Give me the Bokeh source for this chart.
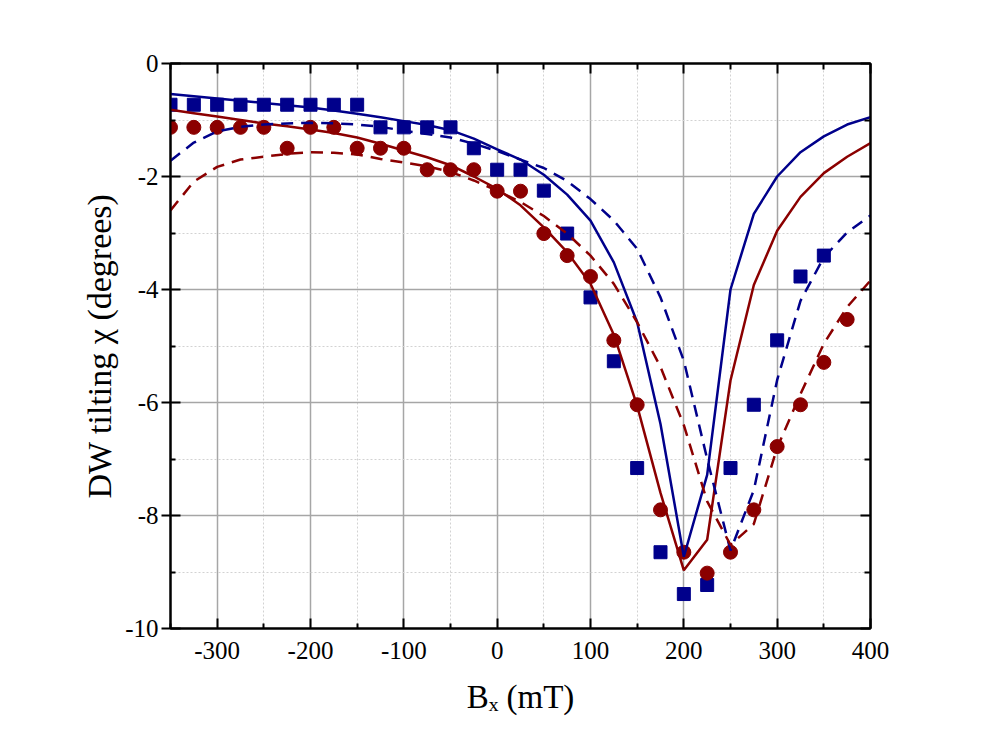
from bokeh.plotting import figure
from bokeh.models import FixedTicker, LinearAxis, Range1d, CustomJSTickFormatter
from bokeh.embed import file_html
from bokeh.resources import INLINE

# ---- data ----
bx_fit = [-350, -325, -300, -275, -250, -225, -200, -175, -150, -125, -100, -75, -50, -25, 0,
          25, 50, 75, 100, 125, 150, 175, 200, 225, 250, 275, 300, 325, 350, 375, 400]
fit_blue_solid = [-0.54, -0.58, -0.62, -0.66, -0.70, -0.74, -0.78, -0.83, -0.89, -0.95, -1.02, -1.09,
                  -1.18, -1.33, -1.52, -1.70, -1.97, -2.32, -2.78, -3.52, -4.58, -6.38, -8.73, -7.28,
                  -4.00, -2.66, -2.00, -1.57, -1.29, -1.08, -0.95]
fit_blue_dash = [-1.72, -1.40, -1.20, -1.12, -1.08, -1.06, -1.05, -1.06, -1.08, -1.12, -1.19, -1.25,
                 -1.31, -1.42, -1.55, -1.70, -1.85, -2.08, -2.40, -2.78, -3.28, -4.14, -5.26, -7.00,
                 -8.62, -7.55, -5.60, -4.20, -3.43, -2.99, -2.69]
fit_red_solid = [-0.82, -0.88, -0.94, -1.00, -1.06, -1.11, -1.17, -1.23, -1.31, -1.42, -1.54, -1.66,
                 -1.80, -2.00, -2.22, -2.51, -2.90, -3.34, -3.90, -4.80, -6.06, -7.60, -8.97, -8.43,
                 -5.61, -3.92, -2.96, -2.36, -1.94, -1.65, -1.41]
fit_red_dash = [-2.60, -2.09, -1.83, -1.70, -1.65, -1.60, -1.57, -1.58, -1.61, -1.69, -1.75, -1.82,
                -1.92, -2.07, -2.25, -2.45, -2.70, -3.01, -3.40, -3.90, -4.58, -5.37, -6.40, -7.75,
                -8.52, -8.15, -6.80, -5.85, -4.96, -4.31, -3.84]

bx_blue = [-350, -325, -300, -275, -250, -225, -200, -175, -150, -125, -100, -75, -50, -25, 0,
           25, 50, 75, 100, 125, 150, 175, 200, 225, 250, 275, 300, 325, 350]
chi_blue = [-0.73, -0.73, -0.73, -0.73, -0.73, -0.73, -0.73, -0.73, -0.73, -1.13, -1.13, -1.13,
            -1.13, -1.50, -1.88, -1.88, -2.25, -3.01, -4.14, -5.27, -7.16, -8.65, -9.39, -9.23,
            -7.16, -6.04, -4.90, -3.77, -3.40]

bx_red = [-350, -325, -300, -275, -250, -225, -200, -175, -150, -125, -100, -75, -50, -25, 0,
          25, 50, 75, 100, 125, 150, 175, 200, 225, 250, 275, 300, 325, 350, 375]
chi_red = [-1.13, -1.13, -1.13, -1.13, -1.13, -1.50, -1.13, -1.13, -1.50, -1.50, -1.50, -1.88,
           -1.88, -1.88, -2.26, -2.26, -3.01, -3.40, -3.77, -4.90, -6.04, -7.90, -8.65, -9.02,
           -8.65, -7.90, -6.78, -6.04, -5.29, -4.53]

x_ticks = [-300, -200, -100, 0, 100, 200, 300, 400]
x_tick_labels = ["-300", "-200", "-100", "0", "100", "200", "300", "400"]
x_minor = [-350, -250, -150, -50, 50, 150, 250, 350]
y_ticks = [-10, -8, -6, -4, -2, 0]
y_tick_labels = ["-10", "-8", "-6", "-4", "-2", "0"]
y_minor = [-9, -7, -5, -3, -1]

x_title = "B\u2093 (mT)"
y_title = "DW tilting \u03c7 (degrees)"

BLUE = "#00008b"
RED = "#8b0000"
FONT = "Liberation Serif"

p = figure(width=980, height=730, x_range=Range1d(-350, 400), y_range=Range1d(-10, 0),
           output_backend="svg", toolbar_location=None,
           min_border_left=170, min_border_top=63, min_border_right=110, min_border_bottom=102)
p.background_fill_color = "white"
p.border_fill_color = "white"
p.outline_line_color = "black"
p.outline_line_width = 2

# grids
p.xgrid.ticker = FixedTicker(ticks=x_ticks, minor_ticks=x_minor)
p.ygrid.ticker = FixedTicker(ticks=y_ticks, minor_ticks=y_minor)
for g in (p.xgrid[0], p.ygrid[0]):
    g.grid_line_color = "#a6a6a6"
    g.grid_line_width = 1.5
    g.minor_grid_line_color = "#d2d2d2"
    g.minor_grid_line_width = 1
    g.minor_grid_line_dash = "2 2"

xa = p.xaxis[0]
xa.ticker = FixedTicker(ticks=x_ticks, minor_ticks=x_minor)
xa.major_label_overrides = {t: l for t, l in zip(x_ticks, x_tick_labels)}
xa.major_tick_in = 10
xa.major_tick_out = 0
xa.minor_tick_in = 5
xa.minor_tick_out = 0
xa.major_label_standoff = 13
xa.major_label_text_font = FONT
xa.major_label_text_font_size = "25px"
xa.major_label_text_color = "black"
xa.axis_label = x_title
xa.axis_label_text_font = FONT
xa.axis_label_text_font_size = "33px"
xa.axis_label_text_font_style = "normal"
xa.axis_label_text_color = "black"
xa.axis_label_standoff = 17

ya = p.yaxis[0]
ya.ticker = FixedTicker(ticks=y_ticks, minor_ticks=y_minor)
ya.major_label_overrides = {t: l for t, l in zip(y_ticks, y_tick_labels)}
ya.major_tick_in = 10
ya.major_tick_out = 9
ya.minor_tick_in = 5
ya.minor_tick_out = 0
ya.major_label_standoff = 3
ya.major_label_text_font = FONT
ya.major_label_text_font_size = "25px"
ya.major_label_text_color = "black"
ya.axis_label = y_title
ya.axis_label_text_font = FONT
ya.axis_label_text_font_size = "34px"
ya.axis_label_text_font_style = "normal"
ya.axis_label_text_color = "black"
ya.axis_label_standoff = 4

blank = CustomJSTickFormatter(code="return ''")
top = LinearAxis(ticker=FixedTicker(ticks=x_ticks, minor_ticks=x_minor), formatter=blank)
right = LinearAxis(ticker=FixedTicker(ticks=y_ticks, minor_ticks=y_minor), formatter=blank)
p.add_layout(top, "above")
p.add_layout(right, "right")
for ax in (top, right):
    ax.major_tick_in = 10
    ax.major_tick_out = 0
    ax.minor_tick_in = 6
    ax.minor_tick_out = 0
    ax.major_label_text_font_size = "1px"

for ax in (xa, ya, top, right):
    ax.axis_line_width = 2
    ax.axis_line_color = "black"
    ax.major_tick_line_width = 2
    ax.major_tick_line_color = "black"
    ax.minor_tick_line_width = 2
    ax.minor_tick_line_color = "black"

# data markers
p.scatter(bx_blue, chi_blue, marker="square", size=13, fill_color=BLUE, line_color=BLUE)
p.scatter(bx_red, chi_red, marker="circle", size=14, fill_color=RED, line_color=RED)

# fit curves
p.line(bx_fit, fit_blue_solid, line_color=BLUE, line_width=2.5)
p.line(bx_fit, fit_red_solid, line_color=RED, line_width=2.5)
p.line(bx_fit, fit_blue_dash, line_color=BLUE, line_width=2.5, line_dash="12 8")
p.line(bx_fit, fit_red_dash, line_color=RED, line_width=2.5, line_dash="12 8")

open("out.html", "w").write(file_html(p, INLINE))
